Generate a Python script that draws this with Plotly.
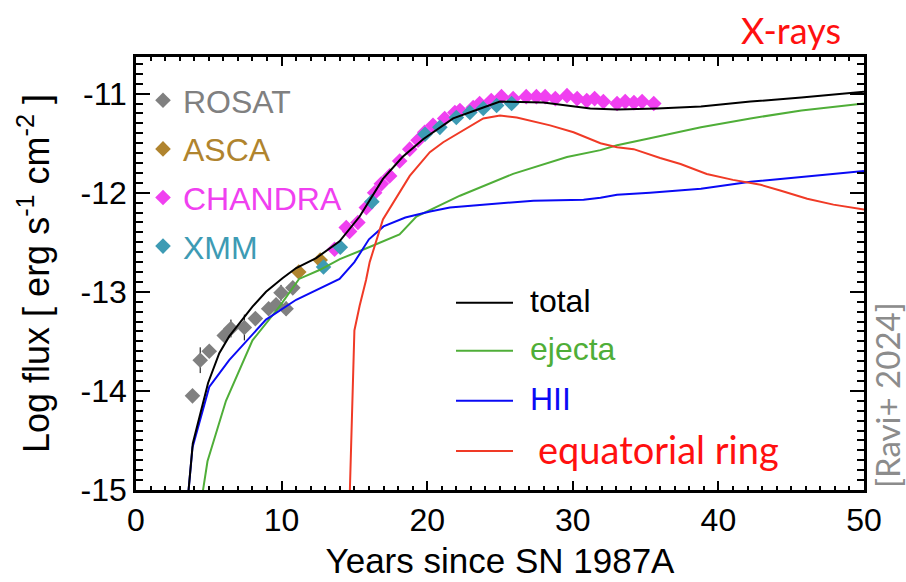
import plotly.graph_objects as go

# ---------------- data ----------------
total_x = [3.55, 3.9, 4.95, 5.72, 6.4, 7.32, 8.0, 8.93, 10.08, 11.0, 12.37, 13.98, 15.36, 16.96,
           18.3, 19.72, 21.78, 23.85, 25.0, 27.98, 31.2, 33.04, 35.8, 38.8, 42.2, 45.7, 50.0]
total_y = [-15.1, -14.53, -13.92, -13.62, -13.45, -13.28, -13.15, -13.0, -12.86, -12.76, -12.66, -12.49,
           -12.24, -11.86, -11.64, -11.46, -11.25, -11.14, -11.08, -11.09, -11.15, -11.16, -11.15,
           -11.13, -11.08, -11.04, -10.98]

ejecta_x = [4.5, 4.91, 6.18, 8.0, 9.85, 11.2, 12.6, 14.0, 16.0, 18.1, 19.26, 22.25, 25.9, 29.6,
            31.9, 33.04, 35.3, 38.8, 42.2, 45.7, 50.0]
ejecta_y = [-15.1, -14.71, -14.1, -13.49, -13.15, -12.87, -12.78, -12.67, -12.55, -12.42, -12.24,
            -12.03, -11.81, -11.64, -11.57, -11.52, -11.45, -11.34, -11.25, -11.17, -11.1]

hii_x = [3.55, 3.88, 5.03, 6.4, 8.93, 11.0, 13.98, 15.0, 16.0, 17.0, 18.5, 20.2, 21.56, 23.85,
         27.3, 30.74, 31.9, 33.04, 35.3, 38.8, 42.2, 45.7, 50.0]
hii_y = [-15.1, -14.57, -13.96, -13.69, -13.28, -13.08, -12.87, -12.7, -12.47, -12.34, -12.25,
         -12.19, -12.15, -12.12, -12.08, -12.07, -12.05, -12.02, -12.0, -11.96, -11.89, -11.84, -11.78]

ring_x = [14.67, 14.85, 15.0, 15.36, 15.8, 16.05, 16.96, 18.8, 20.18, 21.1, 23.85, 25.0, 26.15,
          28.44, 30.05, 31.9, 33.04, 34.18, 36.0, 37.4, 39.2, 41.0, 42.9, 44.3, 46.1, 47.9, 50.0]
ring_y = [-15.1, -14.0, -13.39, -13.14, -12.88, -12.7, -12.27, -11.83, -11.59, -11.49, -11.25,
          -11.22, -11.24, -11.32, -11.39, -11.5, -11.54, -11.56, -11.65, -11.71, -11.81, -11.87,
          -11.92, -11.98, -12.06, -12.12, -12.17]

rosat_x = [3.88, 4.41, 5.03, 6.06, 6.52, 7.44, 8.2, 9.11, 9.62, 9.96, 10.31, 10.77]
rosat_y = [-14.05, -13.69, -13.6, -13.44, -13.37, -13.36, -13.27, -13.17, -13.13, -13.01, -13.17, -12.96]
rosat_err = [0.02, 0.13, 0.06, 0.06, 0.09, 0.13, 0.03, 0.05, 0.03, 0.08, 0.07, 0.05]

asca_x = [11.18, 12.65]
asca_y = [-12.8, -12.68]
asca_err = [0.05, 0.05]

chandra_x = [13.64, 14.44, 14.67, 15.24, 15.82, 16.39, 16.85, 17.42, 18.11, 18.8, 19.37, 19.83,
             20.4, 21.2, 21.9, 22.25, 23.16, 23.6, 24.4, 25.1, 25.9, 26.8, 27.5, 28.1, 28.8,
             29.6, 30.3, 30.96, 31.5, 32.1, 33.04, 33.6, 34.2, 34.76, 35.56]
chandra_y = [-12.57, -12.35, -12.39, -12.3, -12.15, -12.0, -11.91, -11.83, -11.68, -11.56, -11.47,
             -11.39, -11.32, -11.25, -11.19, -11.17, -11.14, -11.1, -11.07, -11.03, -11.05, -11.03,
             -11.03, -11.03, -11.05, -11.02, -11.05, -11.07, -11.05, -11.08, -11.1, -11.08, -11.09,
             -11.08, -11.1]

xmm_x = [12.88, 14.03, 16.2, 19.85, 20.87, 22.0, 22.93, 23.85, 24.77, 25.8]
xmm_y = [-12.75, -12.55, -12.09, -11.41, -11.34, -11.24, -11.19, -11.15, -11.12, -11.1]

y_tickvals = [-15, -14, -13, -12, -11]
y_ticktext = ["-15", "-14", "-13", "-12", "-11"]
x_tickvals = [0, 10, 20, 30, 40, 50]
x_ticktext = ["0", "10", "20", "30", "40", "50"]

model_names = ["total", "ejecta", "HII", "equatorial ring"]

# ---------------- styling ----------------
C_ROSAT = "#808080"
C_ASCA = "#B0842E"
C_CHANDRA = "#F040F0"
C_XMM = "#3D9BB4"
C_TOTAL = "#000000"
C_EJECTA = "#4FAE38"
C_HII = "#0A0AF5"
C_RING = "#F03A26"

SANS = "Liberation Sans, Arial, Helvetica, sans-serif"
HUM = "Lato, Open Sans, sans-serif"

W, H = 906, 582
L, R, T, B = 136, 42, 57, 92
PW, PH = W - L - R, H - T - B


def px(xp):
    return (xp - L) / PW


def py(yp):
    return (H - B - yp) / PH


fig = go.Figure()

def data_trace(x, y, err, color, name, gid):
    kw = dict(x=x, y=y, mode="markers", name=f'<span style="color:{color}">{name}</span>',
              marker=dict(symbol="diamond", size=12, color=color, line=dict(width=0)),
              legendgroup=gid, legend="legend", cliponaxis=True)
    if err is not None:
        kw["error_y"] = dict(type="data", array=err, visible=True, color="black",
                             thickness=1, width=0)
    return go.Scatter(**kw)

fig.add_trace(data_trace(rosat_x, rosat_y, rosat_err, C_ROSAT, "ROSAT", "g1"))
fig.add_trace(data_trace(asca_x, asca_y, asca_err, C_ASCA, "ASCA", "g2"))
fig.add_trace(data_trace(chandra_x, chandra_y, None, C_CHANDRA, "CHANDRA", "g3"))
fig.add_trace(data_trace(xmm_x, xmm_y, None, C_XMM, "XMM", "g4"))

for xs, ys, col, nm in [(ejecta_x, ejecta_y, C_EJECTA, model_names[1]),
                        (hii_x, hii_y, C_HII, model_names[2]),
                        (ring_x, ring_y, C_RING, model_names[3]),
                        (total_x, total_y, C_TOTAL, model_names[0])]:
    fig.add_trace(go.Scatter(x=xs, y=ys, mode="lines", name=nm, showlegend=False,
                             line=dict(color=col, width=2)))

# model key (line samples + labels) as in the reference figure
key_rows = [(302.7, C_TOTAL, "total", SANS, 32, 528),
            (350.7, C_EJECTA, "ejecta", SANS, 32, 528),
            (400.7, C_HII, "HII", SANS, 32, 528),
            (451.0, C_RING, "equatorial ring", HUM, 38, 536)]
shapes = []
annotations = []
for yy, col, txt, fam, fs, tx in key_rows:
    shapes.append(dict(type="line", xref="paper", yref="paper", x0=px(456), x1=px(513),
                       y0=py(yy), y1=py(yy), line=dict(color=col, width=2)))
    annotations.append(dict(xref="paper", yref="paper", x=px(tx), y=py(yy - 2), xanchor="left",
                            yanchor="middle", text=txt, showarrow=False,
                            font=dict(family=fam, size=fs, color=col if col != C_RING else "#FF1010")))

annotations.append(dict(xref="paper", yref="paper", x=px(791), y=py(30), xanchor="center",
                        yanchor="middle", text="X-rays", showarrow=False,
                        font=dict(family=HUM, size=36, color="#FF1010")))
annotations.append(dict(xref="paper", yref="paper", x=px(887), y=py(395), xanchor="center",
                        yanchor="middle", text="[Ravi+ 2024]", textangle=-90, showarrow=False,
                        font=dict(family=HUM, size=33, color="#8C8C8C")))

axis_common = dict(showgrid=False, zeroline=False, showline=True, linecolor="black", linewidth=2.5,
                   mirror="ticks", ticks="inside", tickcolor="black", tickwidth=2,
                   automargin=False,
                   tickfont=dict(family=SANS, size=32, color="black"))

fig.update_layout(
    width=W, height=H, margin=dict(l=L, r=R, t=T, b=B, autoexpand=False),
    paper_bgcolor="white", plot_bgcolor="white",
    xaxis=dict(range=[0, 50], tickmode="array", tickvals=x_tickvals, ticktext=x_ticktext,
               ticklen=9,
               minor=dict(tickmode="linear", tick0=0, dtick=1, ticklen=4.5, ticks="inside",
                          tickcolor="black", tickwidth=1.5),
               title=dict(text="Years since SN 1987A", font=dict(family=SANS, size=35, color="black"),
                          standoff=12),
               **axis_common),
    yaxis=dict(range=[-15, -10.63], tickmode="array", tickvals=y_tickvals, ticktext=y_ticktext,
               ticklen=14,
               minor=dict(tickmode="linear", tick0=-15, dtick=0.1, ticklen=7, ticks="inside",
                          tickcolor="black", tickwidth=1.5),
               title=dict(text="Log flux [ erg s<sup>-1</sup> cm<sup>-2</sup> ]",
                          font=dict(family=SANS, size=36, color="black"), standoff=20),
               **axis_common),
    legend=dict(x=px(143), y=py(73), xanchor="left", yanchor="top", bgcolor="rgba(0,0,0,0)",
                font=dict(family=SANS, size=32), tracegroupgap=4, itemsizing="trace",
                traceorder="grouped"),
    showlegend=True,
    shapes=shapes,
    annotations=annotations,
)

fig.write_html("out.html")
